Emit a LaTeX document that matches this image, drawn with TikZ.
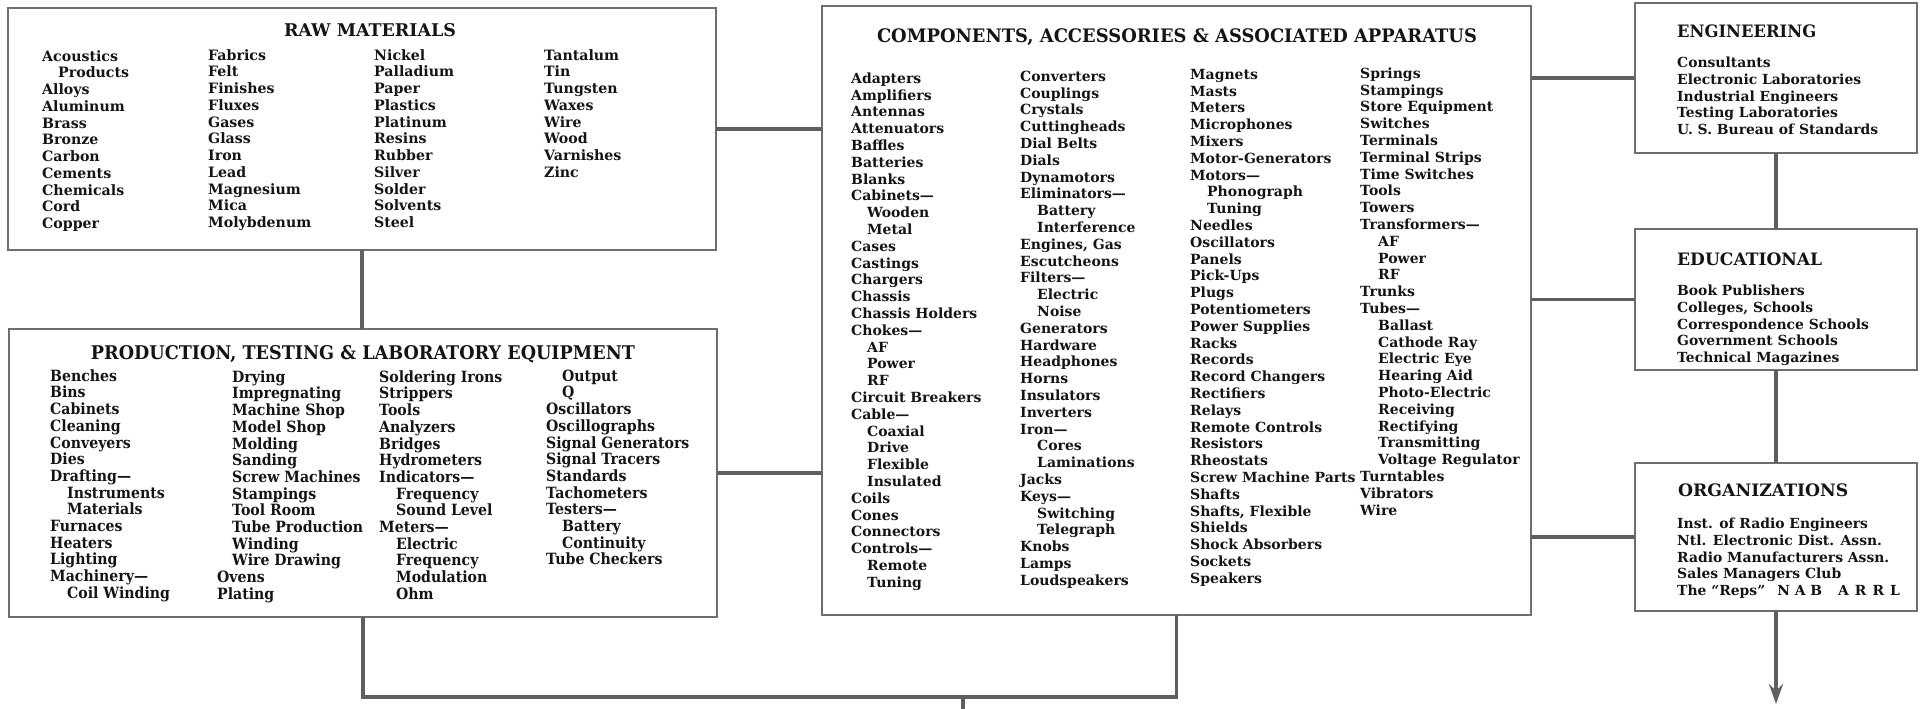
\documentclass[tikz,border=0pt]{standalone}
\usepackage{fontspec}
\usepackage{graphicx}
\usetikzlibrary{arrows.meta}
\newfontfamily\compfont{DejaVu Serif}[Ligatures=TeX]
\newfontfamily\rawfont{DejaVu Serif}[Ligatures=TeX, FakeStretch=0.99]
\newfontfamily\prodfont{DejaVu Serif}[Ligatures=TeX, FakeStretch=0.91]
\definecolor{boxgray}{RGB}{110,110,110}
\definecolor{linegray}{RGB}{95,95,95}
\definecolor{ink}{RGB}{20,20,20}
\newcommand{\FL}{\rule{0pt}{14pt}}
\newcommand{\ind}[1]{\hspace*{#1pt}}
\begin{document}
\begin{tikzpicture}[x=1pt,y=-1pt,
  box/.style={draw=boxgray, line width=2pt, rectangle, inner sep=0pt, outer sep=0pt, fill=white},
  conn/.style={draw=linegray, line width=3.8pt},
  col/.style={anchor=north west, inner sep=0pt, align=left, text=ink},
  ttl/.style={anchor=base, inner sep=0pt, text=ink},
  ttlw/.style={anchor=base west, inner sep=0pt, text=ink},
  compitem/.style={col, font=\compfont\bfseries\fontsize{14}{16.8}\selectfont},
  rawitem/.style={col, font=\rawfont\bfseries\fontsize{14.3}{16.75}\selectfont},
  proditem/.style={col, font=\prodfont\bfseries\fontsize{15.5}{16.7}\selectfont},
  sideitem/.style={col, font=\compfont\bfseries\fontsize{13.9}{16.9}\selectfont}
]
\useasboundingbox (0,0) rectangle (1920,709);
\fill[white] (0,0) rectangle (1920,709);

% boxes
\node[box, minimum width=708pt, minimum height=242pt] (raw) at (362,129) {};
\node[box, minimum width=708pt, minimum height=288pt] (prod) at (363,473) {};
\node[box, minimum width=709pt, minimum height=609pt] (comp) at (1176.5,310.5) {};
\node[box, minimum width=282pt, minimum height=150pt] (eng) at (1776,78) {};
\node[box, minimum width=282pt, minimum height=141pt] (edu) at (1776,299.5) {};
\node[box, minimum width=282pt, minimum height=148pt] (org) at (1776,537) {};

% connectors
\draw[conn] (raw.east) -- (raw.east -| comp.west);
\draw[conn] (prod.east) -- (prod.east -| comp.west);
\draw[conn] (raw.south) -- (raw.south |- prod.north);
\draw[conn] (eng.west -| comp.east) -- (eng.west);
\draw[conn] (edu.west -| comp.east) -- (edu.west);
\draw[conn] (org.west -| comp.east) -- (org.west);
\draw[conn] (eng.south) -- (edu.north);
\draw[conn] (edu.south) -- (org.north);
\coordinate (bus) at (963,697);
\coordinate (busend) at (963,712);
\draw[conn] (prod.south) |- (bus -| comp.south) -- (comp.south);
\draw[conn] (bus) -- (busend);
\coordinate (arrowtip) at (1776,704);
\draw[conn, -{Stealth[length=20pt,width=14pt,inset=7pt]}] (org.south) -- (arrowtip);

% titles
\node[ttl] (rawT) at (370,36.7) {\resizebox{172pt}{13pt}{\rawfont\bfseries RAW MATERIALS}};
\node[ttl] (prodT) at (363,359) {\resizebox{544pt}{14pt}{\prodfont\bfseries PRODUCTION, TESTING \& LABORATORY EQUIPMENT}};
\node[ttl] (compT) at (1177,42.3) {\resizebox{600pt}{13.8pt}{\compfont\bfseries COMPONENTS, ACCESSORIES \& ASSOCIATED APPARATUS}};
\node[ttlw] (engT) at (1677,37.7) {\resizebox{139pt}{12.7pt}{\compfont\bfseries ENGINEERING}};
\node[ttlw] (eduT) at (1677,265) {\resizebox{145pt}{12.7pt}{\compfont\bfseries EDUCATIONAL}};
\node[ttlw] (orgT) at (1678,496.7) {\resizebox{170pt}{12.7pt}{\compfont\bfseries ORGANIZATIONS}};

% raw materials
\node[rawitem] (raw1) at (42,47) {\FL Acoustics\\\ind{16}Products\\Alloys\\Aluminum\\Brass\\Bronze\\Carbon\\Cements\\Chemicals\\Cord\\Copper};
\node[rawitem] (raw2) at (208,46) {\FL Fabrics\\Felt\\Finishes\\Fluxes\\Gases\\Glass\\Iron\\Lead\\Magnesium\\Mica\\Molybdenum};
\node[rawitem] (raw3) at (374,46) {\FL Nickel\\Palladium\\Paper\\Plastics\\Platinum\\Resins\\Rubber\\Silver\\Solder\\Solvents\\Steel};
\node[rawitem] (raw4) at (544,46) {\FL Tantalum\\Tin\\Tungsten\\Waxes\\Wire\\Wood\\Varnishes\\Zinc};

% production
\node[proditem] (prod1) at (50,367) {\FL Benches\\Bins\\Cabinets\\Cleaning\\Conveyers\\Dies\\Drafting---\\\ind{17}Instruments\\\ind{17}Materials\\Furnaces\\Heaters\\Lighting\\Machinery---\\\ind{17}Coil Winding};
\node[proditem] (prod2) at (217,368) {\FL\ind{15}Drying\\\ind{15}Impregnating\\\ind{15}Machine Shop\\\ind{15}Model Shop\\\ind{15}Molding\\\ind{15}Sanding\\\ind{15}Screw Machines\\\ind{15}Stampings\\\ind{15}Tool Room\\\ind{15}Tube Production\\\ind{15}Winding\\\ind{15}Wire Drawing\\Ovens\\Plating};
\node[proditem] (prod3) at (379,368) {\FL Soldering Irons\\Strippers\\Tools\\Analyzers\\Bridges\\Hydrometers\\Indicators---\\\ind{17}Frequency\\\ind{17}Sound Level\\Meters---\\\ind{17}Electric\\\ind{17}Frequency\\\ind{17}Modulation\\\ind{17}Ohm};
\node[proditem] (prod4) at (546,367) {\FL\ind{16}Output\\\ind{16}Q\\Oscillators\\Oscillographs\\Signal Generators\\Signal Tracers\\Standards\\Tachometers\\Testers---\\\ind{16}Battery\\\ind{16}Continuity\\Tube Checkers};

% components
\node[compitem] (comp1) at (851,69) {\FL Adapters\\Amplifiers\\Antennas\\Attenuators\\Baffles\\Batteries\\Blanks\\Cabinets---\\\ind{16}Wooden\\\ind{16}Metal\\Cases\\Castings\\Chargers\\Chassis\\Chassis Holders\\Chokes---\\\ind{16}AF\\\ind{16}Power\\\ind{16}RF\\Circuit Breakers\\Cable---\\\ind{16}Coaxial\\\ind{16}Drive\\\ind{16}Flexible\\\ind{16}Insulated\\Coils\\Cones\\Connectors\\Controls---\\\ind{16}Remote\\\ind{16}Tuning};
\node[compitem] (comp2) at (1020,67) {\FL Converters\\Couplings\\Crystals\\Cuttingheads\\Dial Belts\\Dials\\Dynamotors\\Eliminators---\\\ind{17}Battery\\\ind{17}Interference\\Engines, Gas\\Escutcheons\\Filters---\\\ind{17}Electric\\\ind{17}Noise\\Generators\\Hardware\\Headphones\\Horns\\Insulators\\Inverters\\Iron---\\\ind{17}Cores\\\ind{17}Laminations\\Jacks\\Keys---\\\ind{17}Switching\\\ind{17}Telegraph\\Knobs\\Lamps\\Loudspeakers};
\node[compitem] (comp3) at (1190,65) {\FL Magnets\\Masts\\Meters\\Microphones\\Mixers\\Motor-Generators\\Motors---\\\ind{17}Phonograph\\\ind{17}Tuning\\Needles\\Oscillators\\Panels\\Pick-Ups\\Plugs\\Potentiometers\\Power Supplies\\Racks\\Records\\Record Changers\\Rectifiers\\Relays\\Remote Controls\\Resistors\\Rheostats\\Screw Machine Parts\\Shafts\\Shafts, Flexible\\Shields\\Shock Absorbers\\Sockets\\Speakers};
\node[compitem] (comp4) at (1360,64) {\FL Springs\\Stampings\\Store Equipment\\Switches\\Terminals\\Terminal Strips\\Time Switches\\Tools\\Towers\\Transformers---\\\ind{18}AF\\\ind{18}Power\\\ind{18}RF\\Trunks\\Tubes---\\\ind{18}Ballast\\\ind{18}Cathode Ray\\\ind{18}Electric Eye\\\ind{18}Hearing Aid\\\ind{18}Photo-Electric\\\ind{18}Receiving\\\ind{18}Rectifying\\\ind{18}Transmitting\\\ind{18}Voltage Regulator\\Turntables\\Vibrators\\Wire};

% side boxes
\node[sideitem] (eng1) at (1677,53) {\FL Consultants\\Electronic Laboratories\\Industrial Engineers\\Testing Laboratories\\U. S. Bureau of Standards};
\node[sideitem] (edu1) at (1677,281) {\FL Book Publishers\\Colleges, Schools\\Correspondence Schools\\Government Schools\\Technical Magazines};
\node[sideitem] (org1) at (1677,514) {\FL Inst. of Radio Engineers\\Ntl. Electronic Dist. Assn.\\Radio Manufacturers Assn.\\Sales Managers Club\\The “Reps”\hspace{12pt}N A B\hspace{16pt}A\hspace{6pt}R\hspace{6pt}R\hspace{6pt}L};
\end{tikzpicture}
\end{document}
